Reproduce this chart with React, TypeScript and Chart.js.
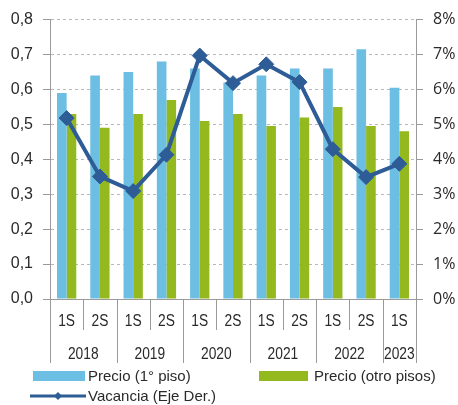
import React, { useEffect, useRef } from "react";
import { Chart, registerables } from "chart.js";

Chart.register(...registerables);

const categories = ["1S", "2S", "1S", "2S", "1S", "2S", "1S", "2S", "1S", "2S", "1S"];
const years = ["2018", "2019", "2020", "2021", "2022", "2023"];
const yearSpans = [2, 2, 2, 2, 2, 1];
const precioPrimerPiso = [0.59, 0.64, 0.65, 0.68, 0.66, 0.62, 0.64, 0.66, 0.66, 0.715, 0.605];
const precioOtroPisos = [0.53, 0.49, 0.53, 0.57, 0.51, 0.53, 0.495, 0.52, 0.55, 0.495, 0.48];
const vacancia = [5.18, 3.51, 3.09, 4.13, 6.97, 6.18, 6.72, 6.21, 4.29, 3.49, 3.87];
const leftTicks = [0, 0.1, 0.2, 0.3, 0.4, 0.5, 0.6, 0.7, 0.8];
const rightTicks = [0, 1, 2, 3, 4, 5, 6, 7, 8];

const BLUE = "#6CBFE2";
const GREEN = "#93B91E";
const LINE = "#2E5C96";
const AXIS = "#9a9a9a";
const TEXT = "#2a2a2a";

const customPlugin = {
  id: "customAxisLegend",
  afterDraw(chart: any) {
    const ctx = chart.ctx as CanvasRenderingContext2D;
    const x = chart.scales.x;
    const area = chart.chartArea;
    const n = categories.length;
    const w = (x.right - x.left) / n;
    const base = area.bottom;
    ctx.save();
    const yearBounds = new Set<number>();
    let acc = 0;
    yearBounds.add(0);
    yearSpans.forEach((s) => {
      acc += s;
      yearBounds.add(acc);
    });
    ctx.strokeStyle = AXIS;
    ctx.lineWidth = 1;
    for (let i = 0; i <= n; i++) {
      const px = Math.round(x.left + i * w) + 0.5;
      const long = yearBounds.has(i);
      ctx.beginPath();
      ctx.moveTo(px, base);
      ctx.lineTo(px, base + (long ? 64 : 31));
      ctx.stroke();
    }
    ctx.fillStyle = TEXT;
    ctx.textAlign = "center";
    ctx.textBaseline = "middle";
    ctx.font = '16px "Liberation Sans", Arial, sans-serif';
    categories.forEach((c, i) => {
      const cx = x.getPixelForValue(i);
      ctx.save();
      ctx.translate(cx, base + 23);
      ctx.scale(0.86, 1);
      ctx.fillText(c, 0, 0);
      ctx.restore();
    });
    let start = 0;
    years.forEach((yr, k) => {
      const span = yearSpans[k];
      const cx = x.left + (start + span / 2) * w;
      ctx.save();
      ctx.translate(cx, base + 56);
      ctx.scale(0.86, 1);
      ctx.fillText(yr, 0, 0);
      ctx.restore();
      start += span;
    });
    ctx.textAlign = "left";
    ctx.font = '15px "Liberation Sans", Arial, sans-serif';
    ctx.fillStyle = BLUE;
    ctx.fillRect(33, 371, 52, 10);
    ctx.fillStyle = TEXT;
    ctx.fillText(chart.data.datasets[1].label, 88, 377);
    ctx.fillStyle = GREEN;
    ctx.fillRect(259, 371, 49, 10);
    ctx.fillStyle = TEXT;
    ctx.fillText(chart.data.datasets[2].label, 314, 377);
    ctx.strokeStyle = LINE;
    ctx.lineWidth = 3;
    ctx.beginPath();
    ctx.moveTo(30, 396);
    ctx.lineTo(86, 396);
    ctx.stroke();
    ctx.fillStyle = LINE;
    ctx.beginPath();
    ctx.moveTo(58, 392);
    ctx.lineTo(62, 396);
    ctx.lineTo(58, 400);
    ctx.lineTo(54, 396);
    ctx.closePath();
    ctx.fill();
    ctx.fillStyle = TEXT;
    ctx.fillText(chart.data.datasets[0].label, 88, 397);
    ctx.restore();
  },
};

export default function App() {
  const ref = useRef<HTMLCanvasElement>(null);
  useEffect(() => {
    if (!ref.current) return;
    const chart = new Chart(ref.current, {
      type: "bar",
      data: {
        labels: categories,
        datasets: [
          {
            type: "line",
            label: "Vacancia (Eje Der.)",
            data: vacancia,
            yAxisID: "y1",
            borderColor: LINE,
            backgroundColor: LINE,
            borderWidth: 4,
            pointStyle: "rectRot",
            pointRadius: 7.5,
            pointBorderWidth: 1,
            tension: 0,
            order: 0,
          } as any,
          {
            type: "bar",
            label: "Precio (1° piso)",
            data: precioPrimerPiso,
            yAxisID: "y",
            backgroundColor: BLUE,
            categoryPercentage: 0.58,
            barPercentage: 1,
            order: 1,
          },
          {
            type: "bar",
            label: "Precio (otro pisos)",
            data: precioOtroPisos,
            yAxisID: "y",
            backgroundColor: GREEN,
            categoryPercentage: 0.58,
            barPercentage: 1,
            order: 1,
          },
        ],
      },
      options: {
        responsive: false,
        animation: false,
        layout: { padding: { top: 19, left: 0, right: 0, bottom: 0 } },
        plugins: { legend: { display: false }, tooltip: { enabled: false } },
        scales: {
          x: {
            type: "category",
            offset: true,
            grid: { display: false },
            border: { display: true, color: AXIS, width: 1 },
            ticks: { display: false },
            afterFit: (s: any) => {
              s.height = 106;
            },
          },
          y: {
            position: "left",
            min: 0,
            max: 0.8,
            afterBuildTicks: (s: any) => {
              s.ticks = leftTicks.map((v) => ({ value: v }));
            },
            ticks: {
              padding: 10,
              color: TEXT,
              font: { family: '"Liberation Sans", Arial, sans-serif', size: 16 },
              callback: (v: any) => Number(v).toFixed(1).replace(".", ","),
            },
            grid: {
              color: "#b8b8b8",
              tickColor: AXIS,
              tickLength: 7,
              lineWidth: 1,
            },
            border: { display: true, color: AXIS, width: 1, dash: [3, 3] },
            afterFit: (s: any) => {
              s.width = 50;
            },
          },
          y1: {
            position: "right",
            min: 0,
            max: 8,
            afterBuildTicks: (s: any) => {
              s.ticks = rightTicks.map((v) => ({ value: v }));
            },
            ticks: {
              padding: 10,
              color: TEXT,
              font: { family: '"Open Sans", sans-serif', size: 16 },
              callback: (v: any) => `${v}%`,
            },
            grid: {
              drawOnChartArea: false,
              tickColor: AXIS,
              tickLength: 7,
            },
            border: { display: true, color: AXIS, width: 1 },
            afterFit: (s: any) => {
              s.width = 42;
            },
          },
        },
      },
      plugins: [customPlugin],
    });
    return () => chart.destroy();
  }, []);
  return (
    <div style={{ position: "absolute", left: 0, top: 0, width: 458, height: 405, background: "#fff" }}>
      <canvas ref={ref} width={458} height={405} />
    </div>
  );
}
